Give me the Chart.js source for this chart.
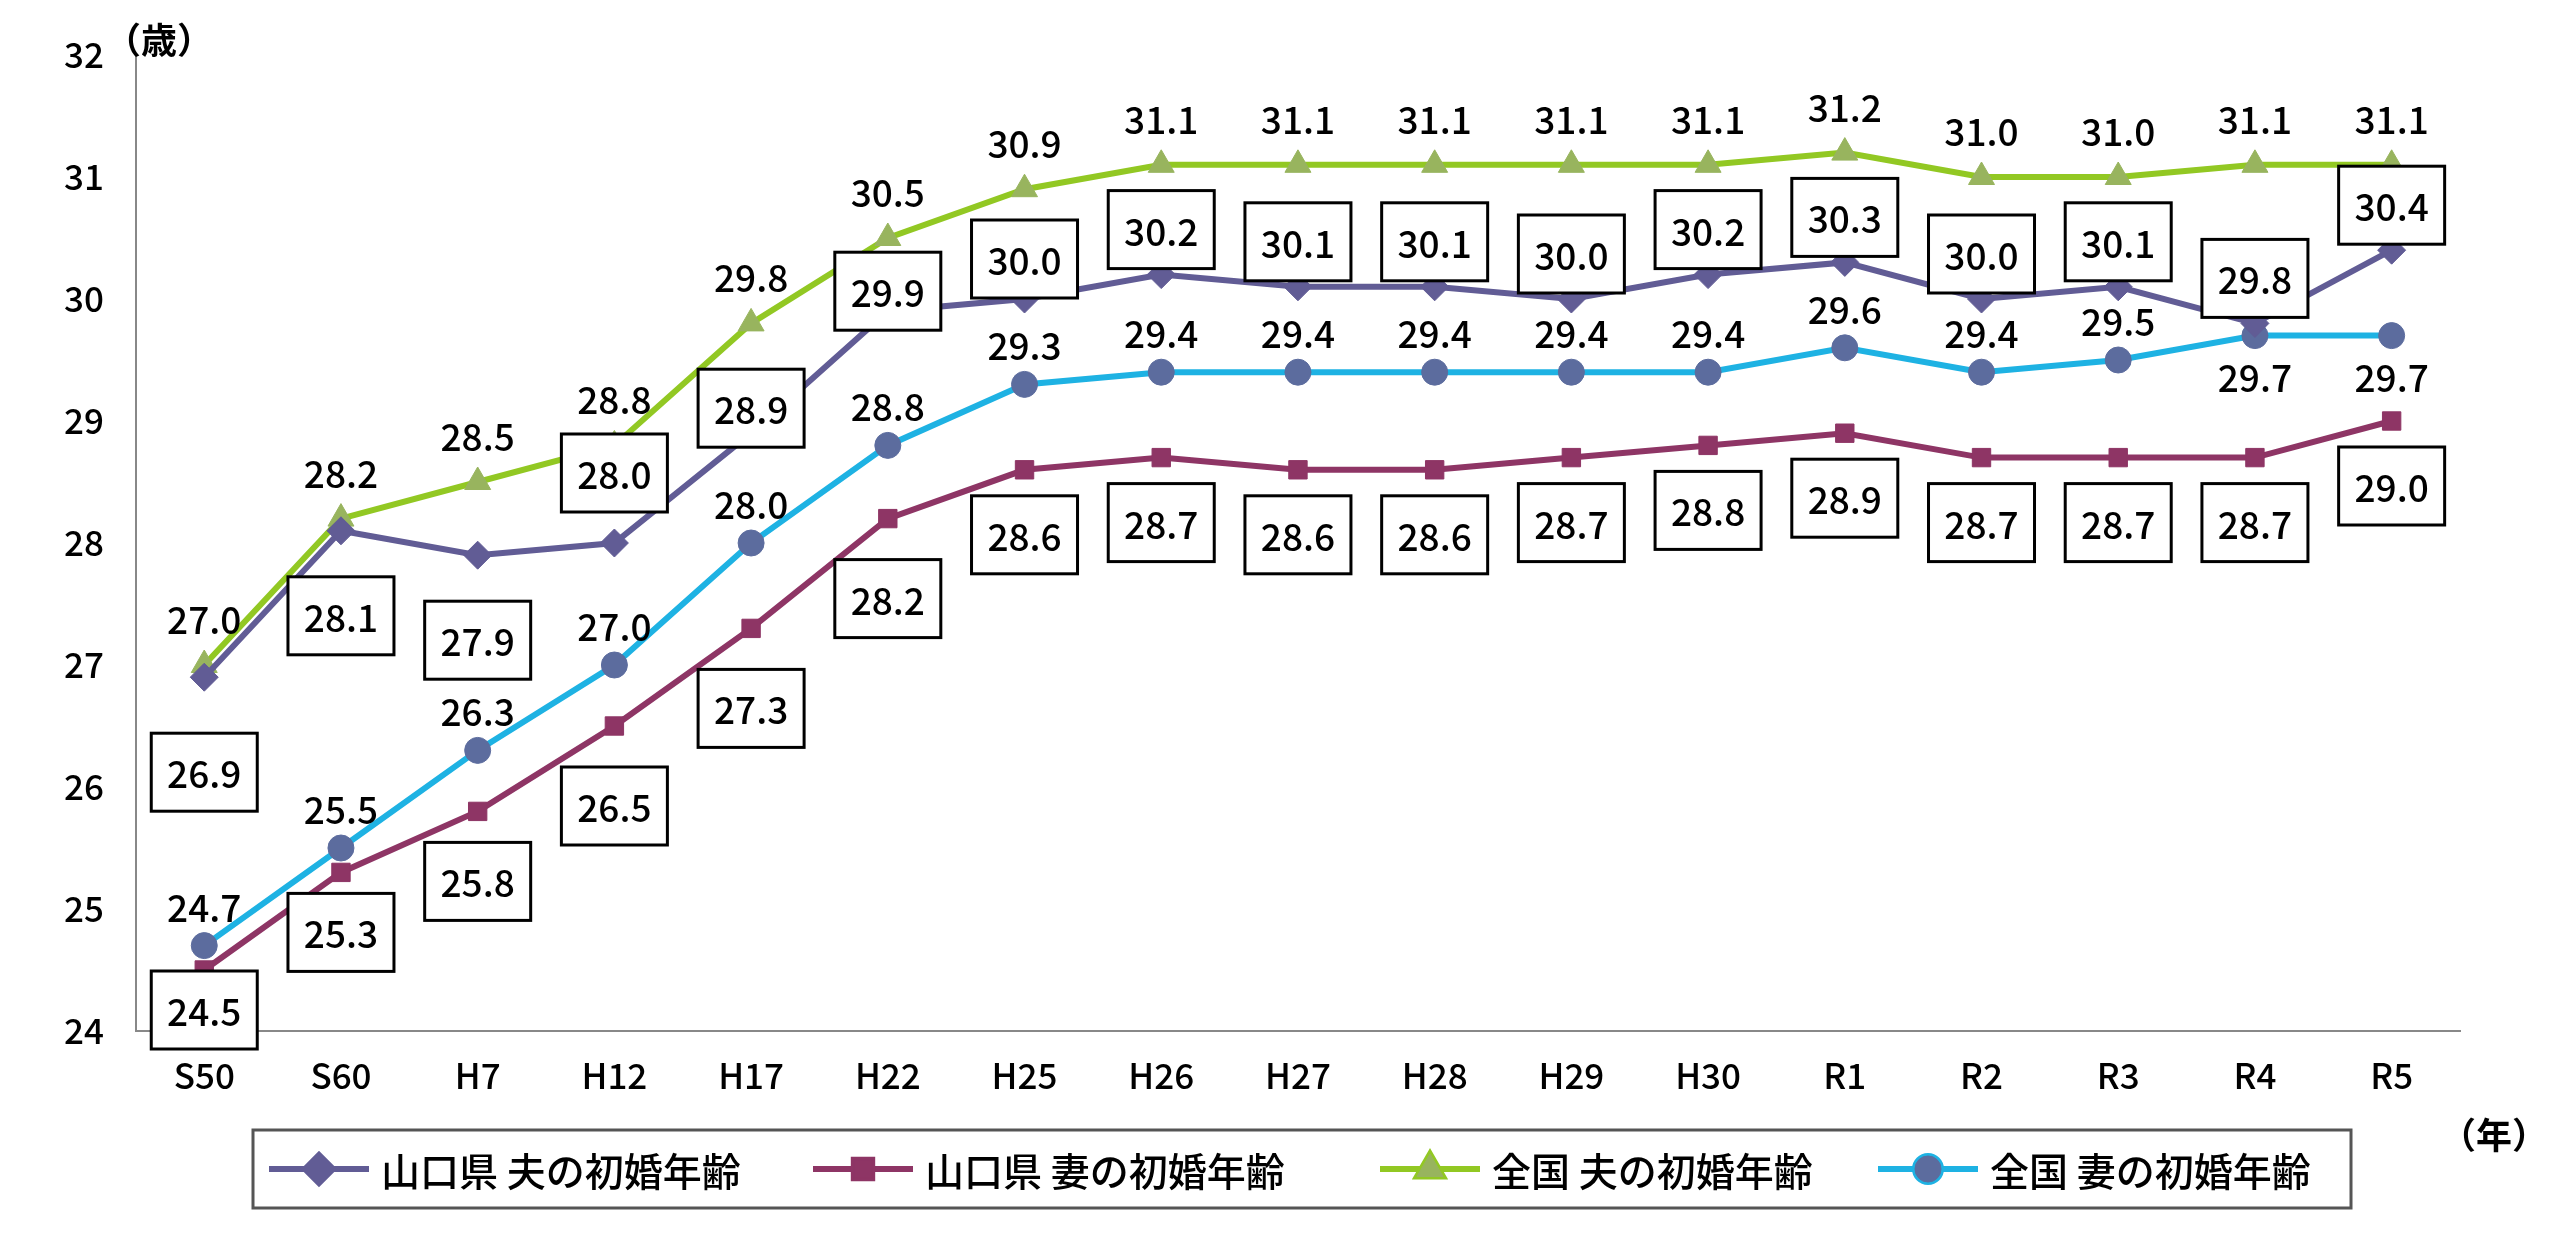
<!DOCTYPE html>
<html><head><meta charset="utf-8">
<script src="https://cdn.jsdelivr.net/npm/chart.js@4"></script>
<style>html,body{margin:0;background:#fff}#w{width:2560px;height:1243px}</style>
</head><body><div id="w"><canvas id="c"></canvas></div>
<script>
const categories=["S50","S60","H7","H12","H17","H22","H25","H26","H27","H28","H29","H30","R1","R2","R3","R4","R5"];
const yamaHusband=[26.9,28.1,27.9,28.0,28.9,29.9,30.0,30.2,30.1,30.1,30.0,30.2,30.3,30.0,30.1,29.8,30.4];
const yamaWife=[24.5,25.3,25.8,26.5,27.3,28.2,28.6,28.7,28.6,28.6,28.7,28.8,28.9,28.7,28.7,28.7,29.0];
const natHusband=[27.0,28.2,28.5,28.8,29.8,30.5,30.9,31.1,31.1,31.1,31.1,31.1,31.2,31.0,31.0,31.1,31.1];
const natWife=[24.7,25.5,26.3,27.0,28.0,28.8,29.3,29.4,29.4,29.4,29.4,29.4,29.6,29.4,29.5,29.7,29.7];
const seriesNames=["山口県 夫の初婚年齢","山口県 妻の初婚年齢","全国 夫の初婚年齢","全国 妻の初婚年齢"];
const yTicks=[24,25,26,27,28,29,30,31,32];

const FONT='"Noto Sans CJK JP","Noto Sans",sans-serif';
const offs=[
 [95,85,85,-70,-25,-20,-40,-45,-45,-45,-45,-45,-45,-45,-45,-45,-45],
 [40,60,70,80,80,80,65,65,65,65,65,65,65,65,65,65,65],
 [-47,-47,-47,-47,-47,-47,-47,-47,-47,-47,-47,-47,-47,-47,-47,-47,-47],
 [-40,-40,-40,-40,-40,-40,-40,-40,-40,-40,-40,-40,-40,-40,-40,40,40]
];
const legendX=[269,813,1380,1878];
const labelPlugin={id:'lbl',afterDatasetsDraw(ch){
 const ctx=ch.ctx;ctx.save();ctx.font='500 37px '+FONT;ctx.textAlign='center';ctx.textBaseline='middle';
 ch.data.datasets.forEach((ds,di)=>{
  const meta=ch.getDatasetMeta(di);
  meta.data.forEach((p,i)=>{
   const t=ds.data[i].toFixed(1);const x=p.x,y=p.y+offs[di][i];
   if(di<2){const w=106,h=78;ctx.fillStyle='#fff';ctx.fillRect(x-w/2,y-h/2,w,h);ctx.lineWidth=3;ctx.strokeStyle='#000';ctx.strokeRect(x-w/2,y-h/2,w,h);}
   ctx.fillStyle='#000';ctx.fillText(t,x,y+2);
  });
 });
 ctx.font='bold 36px '+FONT;ctx.textAlign='left';ctx.fillText('（歳）',105,40);
 ctx.fillText('（年）',2440,1135);
 // legend
 ctx.lineWidth=3;ctx.strokeStyle='#555';ctx.strokeRect(253,1130,2098,78);
 ch.data.datasets.forEach((ds,di)=>{
  const x=legendX[di],y=1169;
  ctx.strokeStyle=ds.borderColor;ctx.lineWidth=6;ctx.beginPath();ctx.moveTo(x,y);ctx.lineTo(x+100,y);ctx.stroke();
  Chart.helpers.drawPoint(ctx,{pointStyle:ds.pointStyle,radius:ds.pointRadius,borderWidth:1},x+50,y);
  ctx.fillStyle=ds.backgroundColor;ctx.strokeStyle=ds.backgroundColor;ctx.lineWidth=1;
  ctx.beginPath();Chart.helpers.drawPoint(ctx,{pointStyle:ds.pointStyle,radius:ds.pointRadius,borderWidth:1},x+50,y);
  ctx.fillStyle='#000';ctx.font='500 39px '+FONT;ctx.textBaseline='middle';ctx.fillText(ds.label,x+112,y+2);
 });
 ctx.restore();}};

new Chart(document.getElementById('c'),{
 type:'line',
 data:{labels:categories,datasets:[
  {label:seriesNames[0],data:yamaHusband,borderColor:'#615c95',backgroundColor:'#615c95',pointStyle:'rectRot',pointRadius:14},
  {label:seriesNames[1],data:yamaWife,borderColor:'#8e3565',backgroundColor:'#8e3565',pointStyle:'rect',pointRadius:13},
  {label:seriesNames[2],data:natHusband,borderColor:'#92c823',backgroundColor:'#98b45e',pointStyle:'triangle',pointRadius:15},
  {label:seriesNames[3],data:natWife,borderColor:'#1eb2e3',backgroundColor:'#5c6c9e',pointStyle:'circle',pointRadius:13}
 ].map(d=>Object.assign(d,{borderWidth:6,pointBorderWidth:1,pointBorderColor:d.backgroundColor,tension:0}))},
 options:{responsive:true,maintainAspectRatio:false,animation:false,
  layout:{padding:{left:40,right:100,top:55,bottom:130}},
  plugins:{tooltip:{enabled:false},legend:{display:false}},
  scales:{
   x:{offset:true,grid:{display:false},border:{color:'#888',width:2},ticks:{font:{size:35,family:FONT,weight:'500'},color:'#000',padding:16}},
   y:{min:24,max:32,afterBuildTicks:s=>{s.ticks=yTicks.map(v=>({value:v}));},grid:{display:false},border:{color:'#888',width:2},ticks:{font:{size:35,family:FONT,weight:'500'},color:'#000',padding:24}}
  }},
 plugins:[labelPlugin]
});
</script></body></html>
